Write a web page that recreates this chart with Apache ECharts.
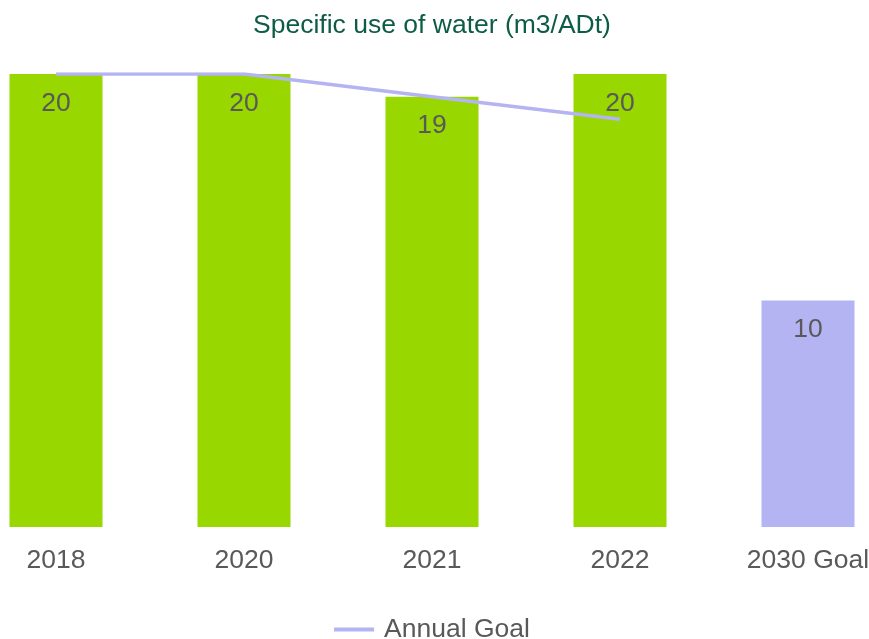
<!DOCTYPE html>
<html>
<head>
<meta charset="utf-8">
<script src="https://cdn.jsdelivr.net/npm/echarts@6/dist/echarts.min.js"></script>
<style>
  html, body { margin: 0; padding: 0; background: #ffffff; overflow: hidden; width: 869px; height: 639px; }
  /* the plot is slightly wider than the page so the outer bars sit at the edges */
  #chart { position: absolute; left: -38px; top: 0; width: 940px; height: 639px; }
</style>
</head>
<body>
<div id="chart"></div>
<script>
// Specific use of water per air-dry tonne, actuals vs goals
const categories = ['2018', '2020', '2021', '2022', '2030 Goal'];
const waterUse = [20, 20, 19, 20, 10];
const annualGoal = [20, 20, 19, 18, null];
const isGoalBar = [false, false, false, false, true];

const GREEN = '#98D700';
const LAVENDER = '#B4B4F2';
const TEXT_GREY = '#595959';
const FONT = 'Arial, "Liberation Sans", sans-serif';
const FS = 26.5;

const chart = echarts.init(document.getElementById('chart'), null, { renderer: 'canvas' });

chart.setOption({
  animation: false,
  title: {
    text: 'Specific use of water (m3/ADt)',
    left: 'center',
    top: 7,
    textStyle: { color: '#0E5C45', fontSize: FS, fontWeight: 'normal', fontFamily: FONT }
  },
  legend: {
    data: ['Annual Goal'],
    top: 611,
    left: 'center',
    itemWidth: 40,
    itemHeight: 4,
    itemGap: 10,
    icon: 'rect',
    textStyle: { color: TEXT_GREY, fontSize: FS, fontFamily: FONT, padding: [0, 0, 0, 5] }
  },
  grid: { left: 0, right: 0, top: 74, bottom: 112, containLabel: false },
  xAxis: {
    type: 'category',
    data: categories,
    axisLine: { show: false },
    axisTick: { show: false },
    axisLabel: { color: TEXT_GREY, fontSize: FS, fontFamily: FONT, margin: 20 }
  },
  yAxis: {
    type: 'value',
    min: 0,
    max: 20,
    show: false,
    splitLine: { show: false }
  },
  series: [
    {
      name: 'Specific use',
      type: 'bar',
      barWidth: 93,
      data: waterUse.map((v, i) => ({
        value: v,
        itemStyle: { color: isGoalBar[i] ? LAVENDER : GREEN }
      })),
      label: {
        show: true,
        position: 'insideTop',
        distance: 16,
        color: TEXT_GREY,
        fontSize: FS,
        fontFamily: FONT
      },
      z: 2
    },
    {
      name: 'Annual Goal',
      type: 'line',
      data: annualGoal,
      showSymbol: false,
      symbol: 'none',
      lineStyle: { color: LAVENDER, width: 3.5 },
      itemStyle: { color: LAVENDER },
      z: 3
    }
  ]
});
</script>
</body>
</html>
